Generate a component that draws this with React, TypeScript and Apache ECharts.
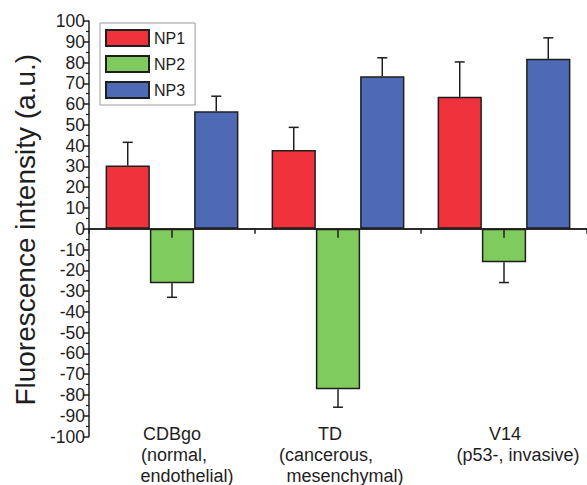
import React, { useEffect, useRef } from "react";
import * as echarts from "echarts";

const categories = ["CDBgo", "TD", "V14"];
const subLabels = [
  ["(normal,", "endothelial)"],
  ["(cancerous,", "mesenchymal)"],
  ["(p53-, invasive)"],
];
const seriesNames = ["NP1", "NP2", "NP3"];
const np1Values = [30.4, 37.9, 63.5];
const np1Errors = [11.2, 10.9, 16.8];
const np2Values = [-26.2, -77.3, -16.1];
const np2Errors = [6.8, 8.6, 9.8];
const np3Values = [56.5, 73.4, 81.8];
const np3Errors = [7.3, 8.9, 10.1];

// styling: horizontal shift (px) of each label line relative to category centre
const labelLineShift = [
  [0, 2, 15],
  [-8, -12, 7],
  [1, 14],
];

const COLORS = ["#F0323C", "#80CB5D", "#4E6AB5"];
const FONT = "Liberation Sans, Arial, Helvetica, sans-serif";
const INK = "#1e1e1e";

export default function App() {
  const ref = useRef<HTMLDivElement>(null);

  useEffect(() => {
    if (!ref.current) return;
    const chart = echarts.init(ref.current, undefined, { renderer: "svg" });

    const values = [np1Values, np2Values, np3Values];
    const errors = [np1Errors, np2Errors, np3Errors];

    const rich: Record<string, any> = {};
    labelLineShift.forEach((lines, i) => {
      lines.forEach((s, j) => {
        rich[`l${i}_${j}`] = {
          fontSize: 18,
          lineHeight: 21,
          fontFamily: FONT,
          color: INK,
          padding: [0, s < 0 ? -2 * s : 0, 0, s > 0 ? 2 * s : 0],
        };
      });
    });

    const barSeries = seriesNames.map((name, si) => ({
      name,
      type: "bar",
      xAxisIndex: 0,
      yAxisIndex: 0,
      data: values[si],
      barGap: "0%",
      barCategoryGap: "20%",
      itemStyle: {
        color: COLORS[si],
        borderColor: INK,
        borderWidth: 1.5,
      },
      z: 2,
    }));

    const errSeries = seriesNames.map((name, si) => ({
      name: name + " error",
      type: "custom",
      xAxisIndex: 0,
      yAxisIndex: 0,
      z: 3,
      data: values[si].map((v, ci) => [ci, v, errors[si][ci]]),
      renderItem: (params: any, api: any) => {
        const ci = api.value(0);
        const v = api.value(1);
        const e = api.value(2);
        const base = api.coord([ci, v]);
        const end = api.coord([ci, v + Math.sign(v) * e]);
        const band = api.size([1, 0])[0];
        const bw = (band * 0.8) / 3;
        const x = base[0] + (si - 1) * bw;
        const style = { stroke: INK, lineWidth: 1.5 };
        return {
          type: "group",
          children: [
            { type: "line", shape: { x1: x, y1: base[1], x2: x, y2: end[1] }, style },
            { type: "line", shape: { x1: x - 5, y1: end[1], x2: x + 5, y2: end[1] }, style },
          ],
        };
      },
    }));

    const option: any = {
      animation: false,
      backgroundColor: "#ffffff",
      textStyle: { fontFamily: FONT },
      grid: { left: 89, right: -8, top: 21, bottom: 48 },
      legend: {
        data: seriesNames,
        orient: "vertical",
        left: 100,
        top: 23,
        itemWidth: 43,
        itemHeight: 16,
        itemGap: 8,
        padding: [6, 10, 6, 5],
        borderColor: "#9a9a9a",
        borderWidth: 1,
        icon: "rect",
        textStyle: { fontSize: 16, color: INK, fontFamily: FONT },
      },
      xAxis: [
        {
          type: "category",
          data: categories,
          position: "bottom",
          z: 10,
          axisLine: { onZero: true, onZeroAxisIndex: 0, lineStyle: { color: INK, width: 1.5 } },
          axisTick: { show: true, alignWithLabel: true, length: 9, lineStyle: { color: INK, width: 1.5 } },
          axisLabel: { show: false },
          splitLine: { show: false },
        },
        {
          type: "category",
          data: categories,
          position: "bottom",
          z: 10,
          axisLine: { show: true, onZero: true, onZeroAxisIndex: 1, lineStyle: { color: INK, width: 1.5 } },
          axisTick: { show: true, alignWithLabel: false, length: 5, lineStyle: { color: INK, width: 1.5 } },
          axisLabel: { show: false },
          splitLine: { show: false },
        },
        {
          type: "category",
          data: categories,
          position: "bottom",
          axisLine: { show: false, onZero: false },
          axisTick: { show: false },
          splitLine: { show: false },
          axisLabel: {
            interval: 0,
            margin: -13,
            formatter: (value: string, index: number) => {
              const lines = [value, ...subLabels[index]];
              return lines.map((t, j) => `{l${index}_${j}|${t}}`).join("\n");
            },
            rich,
          },
        },
      ],
      yAxis: [
        {
          type: "value",
          min: -100,
          max: 100,
          interval: 10,
          name: "Fluorescence intensity (a.u.)",
          nameLocation: "middle",
          nameGap: 47,
          nameTextStyle: {
            fontSize: 28,
            color: INK,
            fontFamily: FONT,
            padding: [0, 2, 0, 0],
          },
          axisLine: { show: true, onZero: false, lineStyle: { color: INK, width: 1.5 } },
          axisTick: { show: true, inside: false, length: 6, lineStyle: { color: INK, width: 1.5 } },
          minorTick: { show: true, splitNumber: 2, length: 3, lineStyle: { color: INK, width: 1.2 } },
          splitLine: { show: false },
          axisLabel: { fontSize: 17.5, color: INK, margin: 4, fontFamily: FONT },
        },
        {
          type: "value",
          min: -100,
          max: 100,
          interval: 10,
          show: false,
        },
      ],
      series: [...barSeries, ...errSeries],
    };

    chart.setOption(option);
    return () => chart.dispose();
  }, []);

  return (
    <div
      ref={ref}
      style={{ position: "absolute", left: 0, top: 0, width: 587, height: 485 }}
    />
  );
}
